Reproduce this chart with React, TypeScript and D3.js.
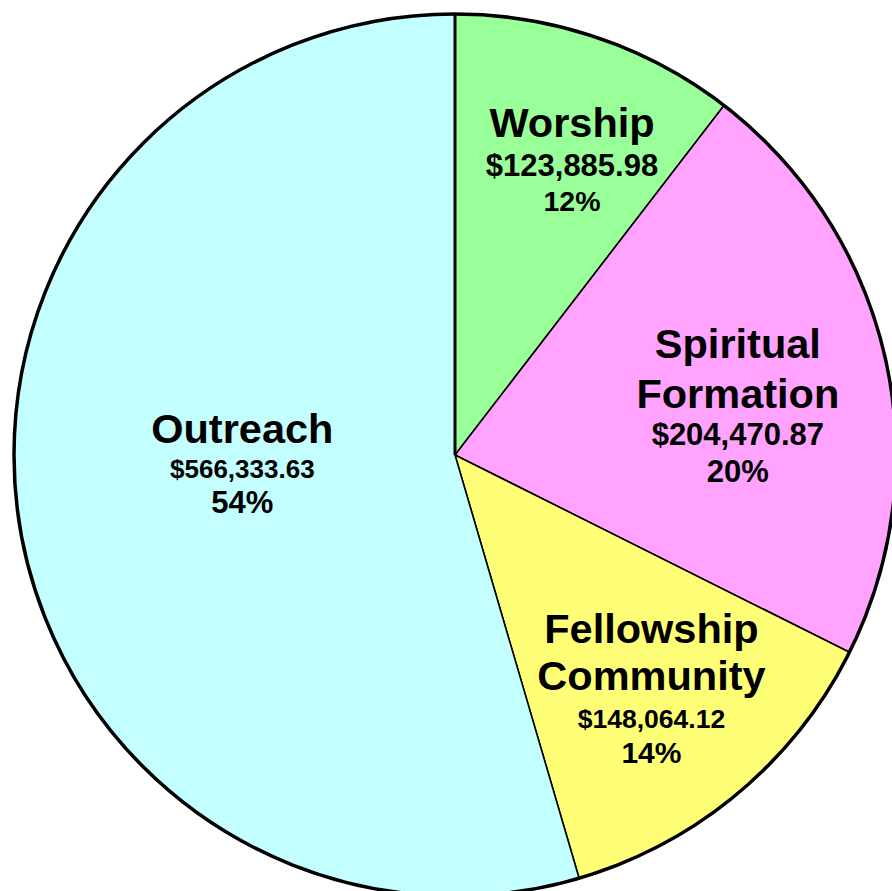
import React from "react";
import * as d3 from "d3";

// ---- data ----
const categories = ["Worship", "Spiritual Formation", "Fellowship Community", "Outreach"];
const titleLines = [["Worship"], ["Spiritual", "Formation"], ["Fellowship", "Community"], ["Outreach"]];
const amountLabels = ["$123,885.98", "$204,470.87", "$148,064.12", "$566,333.63"];
const percentLabels = ["12%", "20%", "14%", "54%"];
// share of the circle each slice occupies as drawn (percent)
const sliceShares = [10.44, 21.94, 13.08, 54.54];
const sliceColors = ["#99FF99", "#FFA3FF", "#FFFF77", "#C4FFFF"];

// ---- layout ----
const W = 892;
const H = 891;
const CX = 455;
const CY = 455;
const R = 441;
const FONT = "'Liberation Sans', Arial, Helvetica, sans-serif";

// label anchor: radius and angular shift (deg) from slice mid-angle; baseline offsets & font sizes per line
const labelLayout = [
  { r: 339, shift: 1.4, offsets: [0, 39, 74], sizes: [41.5, 31, 28.5] },
  { r: 299, shift: -6.0, offsets: [0, 50, 87, 124], sizes: [41.5, 41.5, 31, 31] },
  { r: 272, shift: -6.35, offsets: [0, 47, 85, 120], sizes: [41.5, 41.5, 26.5, 30] },
  { r: 213, shift: 11.35, offsets: [0, 35, 70], sizes: [41.5, 26, 31] },
];

export default function App() {
  const pie = d3
    .pie<number>()
    .sort(null)
    .value((d) => d)
    .startAngle(0)
    .endAngle(2 * Math.PI);
  const arcs = pie(sliceShares);
  const arcGen = d3.arc<d3.PieArcDatum<number>>().innerRadius(0).outerRadius(R);

  return (
    <svg
      width={W}
      height={H}
      style={{ position: "absolute", left: 0, top: 0, background: "#fff" }}
      fontFamily={FONT}
    >
      <g transform={`translate(${CX},${CY})`}>
        {arcs.map((a, i) => (
          <path
            key={categories[i]}
            d={arcGen(a) || ""}
            fill={sliceColors[i]}
            stroke="#000"
            strokeWidth={1.6}
            strokeLinejoin="round"
          />
        ))}
        <circle r={R} fill="none" stroke="#000" strokeWidth={3.5} />
        <line x1={0} y1={0} x2={0} y2={-R} stroke="#000" strokeWidth={3} />
        {arcs.map((a, i) => {
          const L = labelLayout[i];
          const ang = (a.startAngle + a.endAngle) / 2 + (L.shift * Math.PI) / 180;
          const x = Math.sin(ang) * L.r;
          const y = -Math.cos(ang) * L.r;
          const lines = [...titleLines[i], amountLabels[i], percentLabels[i]];
          return (
            <g key={"lbl" + i} transform={`translate(${x},${y})`}>
              {lines.map((t, j) => (
                <text
                  key={j}
                  x={0}
                  y={L.offsets[j]}
                  textAnchor="middle"
                  fontWeight="bold"
                  fontSize={L.sizes[j]}
                  fill="#000"
                >
                  {t}
                </text>
              ))}
            </g>
          );
        })}
      </g>
    </svg>
  );
}
